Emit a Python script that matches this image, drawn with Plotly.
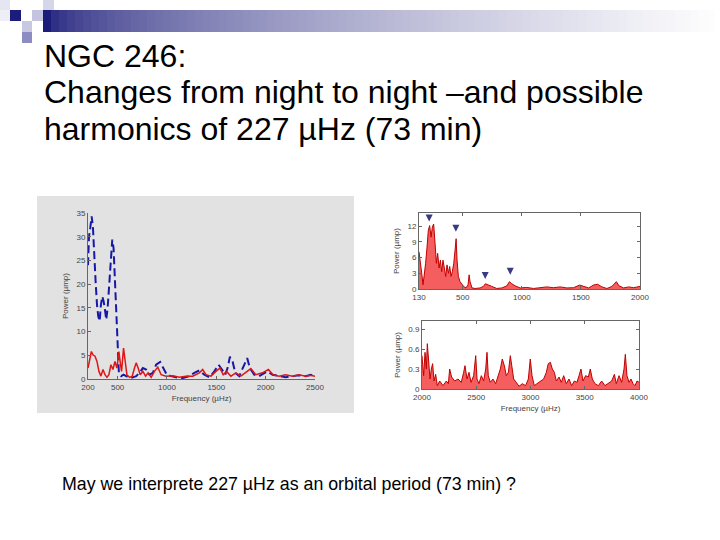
import plotly.graph_objects as go

# left panel: two nights
night1_freq = [200, 210, 224, 237, 250, 264, 277, 291, 304, 318, 331, 345, 358, 372, 385, 399, 415, 432, 446, 459,
               473, 486, 500, 513, 537, 560, 587, 621, 655, 688, 722, 756, 789, 823, 857, 890, 931, 964, 998, 1042,
               1092, 1160, 1227, 1277, 1328, 1378, 1429, 1480, 1523, 1557, 1590, 1614, 1638, 1665, 1692, 1732, 1772,
               1813, 1840, 1884, 1934, 1985, 2018, 2069, 2136, 2203, 2271, 2338, 2405, 2456, 2500]
night1_power = [24, 30, 32, 34.3, 32, 25, 20.6, 15.7, 13.2, 12.2, 15.7, 17.4, 16.4, 14.6, 12.5, 15, 20.6, 27, 29.4, 27.6,
                21.3, 12.2, 5.8, 1.3, 0.6, 0.9, 0.6, 0.2, 0.35, 0.6, 1.3, 2.3, 2, 0.9, 1.3, 3, 3.6, 2.3, 0.9, 0.6,
                0.35, 0.2, 0.6, 1.3, 1.8, 0.9, 0.35, 1.6, 3, 2, 0.9, 2.3, 4.7, 3.7, 1.3, 0.6, 2.3,
                4.4, 2.3, 0.9, 0.6, 1.3, 1.6, 0.9, 0.6, 0.35, 0.6, 0.8, 0.6, 0.9, 0.6]

night2_freq = [200, 217, 234, 250, 271, 291, 311, 331, 352, 372, 392, 412, 432, 453, 473, 493, 513, 527, 540, 560,
               574, 594, 621, 648, 671, 688, 708, 729, 756, 783, 809, 840, 873, 907, 941, 991, 1059, 1126, 1193, 1261,
               1328, 1362, 1395, 1446, 1496, 1537, 1570, 1604, 1648, 1698, 1749, 1799, 1850, 1900, 1968, 2028, 2075,
               2136, 2203, 2271, 2338, 2405, 2456, 2500]
night2_power = [2.3, 4.4, 5.8, 5.1, 4.8, 3.7, 1.6, 0.6, 2, 0.9, 0.35, 0.9, 3, 2, 3.7, 2.3, 5.8, 3.4, 1.6, 6.5,
                3.7, 0.9, 0.35, 0.6, 2.3, 3.4, 2.3, 0.9, 1.6, 0.6, 1.3, 0.35, 1.6, 2.5, 0.9, 0.6, 0.7, 0.35, 0.6, 0.6,
                1.3, 2, 0.9, 0.6, 1.6, 2.3, 0.9, 1.6, 0.6, 1.3, 0.6, 1.3, 2.2, 0.9, 1.3, 2, 0.9,
                0.6, 0.9, 0.6, 0.9, 0.6, 0.8, 0.6]

# right top: 130-2000 uHz
low_freq = [130, 141, 153, 164, 175, 186, 198, 209, 220, 232, 243, 254, 266, 277, 288, 300, 311, 322, 333, 345,
            356, 367, 379, 390, 401, 412, 424, 435, 444, 452, 463, 477, 494, 511, 528, 545, 554, 562, 579, 605,
            647, 675, 692, 718, 746, 788, 831, 873, 896, 915, 944, 986, 1042, 1099, 1155, 1212, 1268, 1325, 1381,
            1438, 1489, 1523, 1565, 1607, 1641, 1678, 1720, 1763, 1800, 1822, 1862, 1904, 1946, 2000]
low_power = [7.1, 5.5, 3, 0.8, 2.4, 4.9, 8, 11.2, 12.1, 9.9, 11.8, 12.4, 8.7, 4.9, 6.8, 4, 5.5, 3.3, 5.5, 3.6,
             2.4, 4.6, 3, 4.3, 2.4, 3.3, 4.9, 7.4, 9.6, 5.5, 2.4, 1.4, 0.8, 0.4, 0.2, 0.8, 2.7, 1.4, 0.2, 0.1,
             0.2, 0.5, 1, 0.8, 0.5, 0.1, 0.2, 0.6, 1.4, 1, 0.6, 0.2, 0.3, 0.1, 0.25, 0.4, 0.25, 0.4, 0.2,
             0.25, 0.75, 0.5, 0.2, 0.75, 0.9, 0.4, 0.1, 0.5, 1.4, 0.6, 0.2, 0.4, 0.25, 0.5]

# harmonics of 227 uHz marked with arrows
harm_freq = [216, 442, 690, 902]
harm_power = [12.9, 10.9, 1.9, 2.7]

# right bottom: 2000-4000 uHz
high_freq = [2000, 2015, 2028, 2040, 2049, 2061, 2074, 2086, 2098, 2111, 2126, 2141, 2163, 2194, 2224, 2243, 2255,
             2273, 2301, 2332, 2362, 2384, 2396, 2415, 2433, 2452, 2476, 2495, 2507, 2525, 2547, 2568, 2587, 2599,
             2611, 2630, 2654, 2679, 2700, 2722, 2740, 2759, 2777, 2796, 2814, 2829, 2845, 2869, 2894, 2925, 2955,
             2980, 2998, 3014, 3035, 3060, 3091, 3121, 3146, 3164, 3183, 3201, 3220, 3238, 3263, 3284, 3306, 3330,
             3355, 3379, 3404, 3428, 3447, 3465, 3484, 3508, 3533, 3551, 3570, 3594, 3625, 3656, 3686, 3717, 3748,
             3773, 3791, 3816, 3840, 3862, 3874, 3889, 3908, 3926, 3945, 3963, 3982, 4000]
high_power = [0.5, 0.2, 0.55, 0.3, 0.68, 0.35, 0.15, 0.3, 0.38, 0.12, 0.22, 0.05, 0.12, 0.05, 0.12, 0.08, 0.3,
              0.18, 0.12, 0.15, 0.1, 0.25, 0.35, 0.15, 0.25, 0.1, 0.2, 0.5, 0.15, 0.08, 0.2, 0.12, 0.3, 0.55,
              0.2, 0.1, 0.15, 0.08, 0.2, 0.3, 0.45, 0.35, 0.2, 0.25, 0.5, 0.3, 0.15, 0.1, 0.04, 0.08, 0.05,
              0.15, 0.45, 0.2, 0.05, 0.08, 0.12, 0.15, 0.25, 0.38, 0.4, 0.3, 0.25, 0.12, 0.18, 0.1, 0.2, 0.08,
              0.15, 0.05, 0.12, 0.1, 0.2, 0.3, 0.12, 0.2, 0.18, 0.3, 0.15, 0.08, 0.05, 0.12, 0.05, 0.08, 0.12,
              0.22, 0.08, 0.2, 0.1, 0.3, 0.52, 0.2, 0.1, 0.15, 0.08, 0.05, 0.12, 0.1]

title_lines = ["NGC 246:", "Changes from night to night \u2013and possible", "harmonics of 227 \u00b5Hz (73 min)"]
footer = "May we interprete 227 \u00b5Hz as an orbital period (73 min) ?"

W, H = 720, 540


def fx(px):
    return px / W


def fy(py):
    return 1 - py / H


fig = go.Figure()

fig.add_trace(go.Scatter(x=night1_freq, y=night1_power, mode='lines', xaxis='x', yaxis='y',
                         line=dict(color='#1818a8', width=2, dash='8px,4px')))
fig.add_trace(go.Scatter(x=night2_freq, y=night2_power, mode='lines', xaxis='x', yaxis='y',
                         line=dict(color='#e01515', width=1.5)))

fig.add_trace(go.Scatter(x=low_freq, y=low_power, mode='lines', xaxis='x2', yaxis='y2', fill='tozeroy',
                         fillcolor='rgba(240,40,40,0.75)', line=dict(color='#c00000', width=1)))
fig.add_trace(go.Scatter(x=harm_freq, y=harm_power, mode='markers', xaxis='x2', yaxis='y2',
                         marker=dict(symbol='arrow-down', size=7, color='#3a3a80')))

fig.add_trace(go.Scatter(x=high_freq, y=high_power, mode='lines', xaxis='x3', yaxis='y3', fill='tozeroy',
                         fillcolor='rgba(240,40,40,0.75)', line=dict(color='#c00000', width=1)))

tick_font = dict(family='Liberation Sans, Arial', size=8, color='#444')
title_font = dict(family='Liberation Sans, Arial', size=8, color='#444')

common = dict(showgrid=False, zeroline=False, showline=True, linecolor='#666', linewidth=1,
              ticks='inside', ticklen=3, tickcolor='#666', tickfont=tick_font, automargin=False)

fig.update_layout(
    width=W, height=H,
    margin=dict(l=0, r=0, t=0, b=0, pad=0, autoexpand=False),
    paper_bgcolor='white',
    plot_bgcolor='rgba(0,0,0,0)',
    showlegend=False,
    xaxis=dict(domain=[fx(88), fx(315)], anchor='y', range=[200, 2500],
               tickvals=[200, 500, 1000, 1500, 2000, 2500],
               title=dict(text='Frequency (\u00b5Hz)', font=title_font, standoff=4), **common),
    yaxis=dict(domain=[fy(379), fy(213)], anchor='x', range=[0, 35], dtick=5,
               title=dict(text='Power (\u00b5mp)', font=title_font, standoff=6), **common),
    xaxis2=dict(domain=[fx(419), fx(640)], anchor='y2', range=[130, 2000],
                tickvals=[130, 500, 1000, 1500, 2000], mirror='ticks', **common),
    yaxis2=dict(domain=[fy(289), fy(213)], anchor='x2', range=[0, 14.5], tickvals=[0, 3, 6, 9, 12],
                mirror='ticks', title=dict(text='Power (\u00b5mp)', font=title_font, standoff=6), **common),
    xaxis3=dict(domain=[fx(422), fx(639)], anchor='y3', range=[2000, 4000],
                tickvals=[2000, 2500, 3000, 3500, 4000], mirror='ticks',
                title=dict(text='Frequency (\u00b5Hz)', font=title_font, standoff=4), **common),
    yaxis3=dict(domain=[fy(389), fy(321)], anchor='x3', range=[0, 1.02], tickvals=[0, 0.3, 0.6, 0.9],
                mirror='ticks', title=dict(text='Power (\u00b5mp)', font=title_font, standoff=6), **common),
)

shapes = []
# grey backdrop of the left figure
shapes.append(dict(type='rect', xref='paper', yref='paper', x0=fx(37), x1=fx(354), y0=fy(413), y1=fy(196),
                   fillcolor='#e2e2e2', line=dict(width=0), layer='below'))

# header bar, navy fading to white
x_start, x_end, step = 43, 720, 8
n = (x_end - x_start) // step + 1
for i in range(n):
    t = i / (n - 1)
    f = t ** 0.55
    r = int(28 + (255 - 28) * f)
    g = int(28 + (255 - 28) * f)
    b = int(122 + (255 - 122) * f)
    shapes.append(dict(type='rect', xref='paper', yref='paper',
                       x0=fx(x_start + i * step), x1=fx(min(x_start + (i + 1) * step + 1, W)),
                       y0=fy(32), y1=fy(10), fillcolor=f'rgb({r},{g},{b})', line=dict(width=0), layer='below'))

# corner squares
squares = [(0, 0, 10, 10, '#e6e6f2'), (10, 10, 21, 21, '#1c1c7c'), (32, 10, 43, 21, '#c4c4e0'),
           (43, 0, 54, 10, '#d6d6ea'), (22, 21, 32, 32, '#c8c8e2'), (22, 32, 32, 43, '#8c8cc2'),
           (0, 10, 10, 21, '#eeeef6')]
for x0, y0, x1, y1, c in squares:
    shapes.append(dict(type='rect', xref='paper', yref='paper', x0=fx(x0), x1=fx(x1), y0=fy(y1), y1=fy(y0),
                       fillcolor=c, line=dict(width=0), layer='below'))

fig.update_layout(shapes=shapes)

annotations = []
for i, line in enumerate(title_lines):
    annotations.append(dict(text=line, xref='paper', yref='paper', x=fx(42), y=fy(56 + 36.5 * i),
                            xanchor='left', yanchor='middle', showarrow=False,
                            font=dict(family='Liberation Sans, Arial', size=32, color='black')))
annotations.append(dict(text=footer, xref='paper', yref='paper', x=fx(60), y=fy(484),
                        xanchor='left', yanchor='middle', showarrow=False,
                        font=dict(family='Liberation Sans, Arial', size=17.8, color='black')))
fig.update_layout(annotations=annotations)

fig.write_html("out.html", config={'displayModeBar': False},
               post_script="document.body.style.margin='0px';document.body.style.overflow='hidden';")
